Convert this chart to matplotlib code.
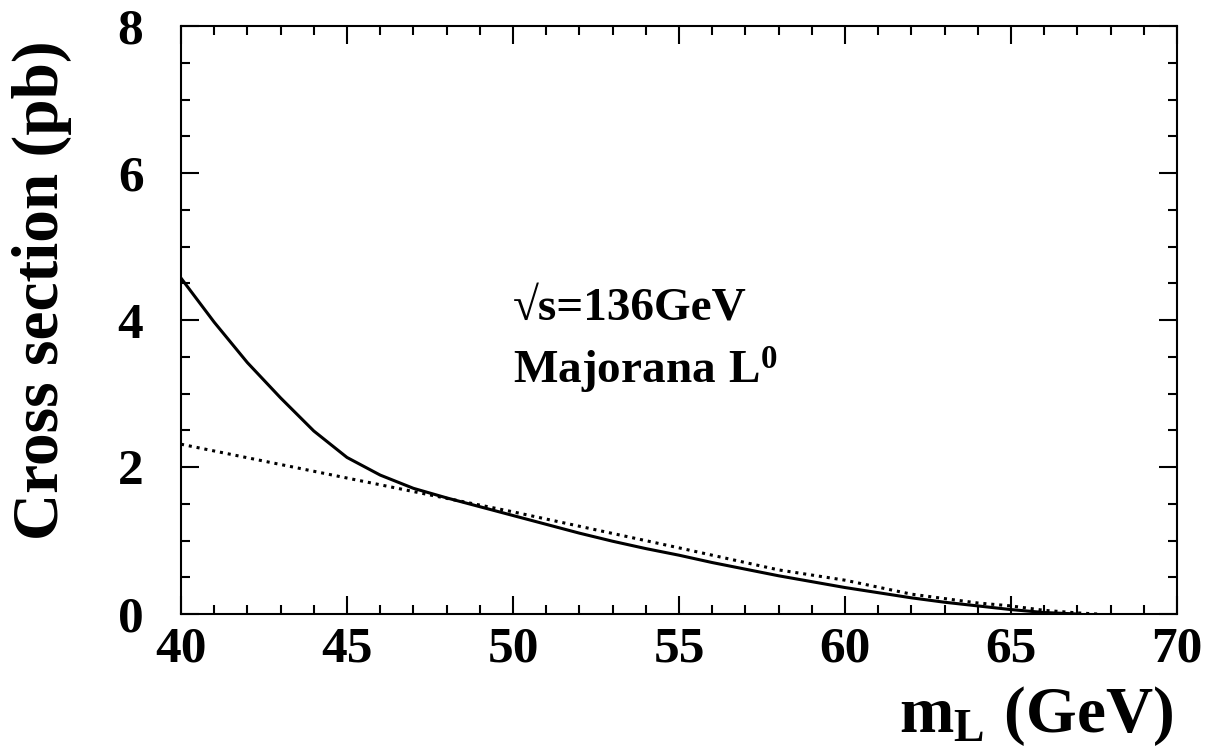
import matplotlib
matplotlib.use("Agg")
import matplotlib.pyplot as plt
from matplotlib.ticker import MultipleLocator

plt.rcParams['font.family'] = ['Liberation Serif', 'DejaVu Serif']
plt.rcParams['font.weight'] = 'bold'
plt.rcParams['mathtext.fontset'] = 'custom'
plt.rcParams['mathtext.rm'] = 'Liberation Serif:bold'
plt.rcParams['mathtext.it'] = 'Liberation Serif:bold'
plt.rcParams['mathtext.bf'] = 'Liberation Serif:bold'

# Data
mass = [40, 41, 42, 43, 44, 45, 46, 47, 48, 49, 50, 51, 52, 53, 54, 55,
        56, 57, 58, 59, 60, 61, 62, 63, 64, 65, 66, 67]
xsec_solid = [4.57, 3.97, 3.42, 2.94, 2.49, 2.13, 1.89, 1.71, 1.58, 1.46,
              1.34, 1.22, 1.10, 0.99, 0.89, 0.80, 0.70, 0.61, 0.52, 0.44,
              0.36, 0.29, 0.22, 0.16, 0.11, 0.06, 0.02, 0.0]
mass_dot = [40, 45, 50, 55, 58, 60, 62, 64, 65, 66, 67, 67.6]
xsec_dot = [2.31, 1.85, 1.39, 0.90, 0.60, 0.46, 0.27, 0.15, 0.11, 0.05, 0.015, 0.0]

xticks = [40, 45, 50, 55, 60, 65, 70]
yticks = [0, 2, 4, 6, 8]

fig = plt.figure(figsize=(12.08, 7.55), dpi=100)
ax = fig.add_axes([181/1208, 1-614/755, (1177-181)/1208, (614-26)/755])

ax.plot(mass, xsec_solid, color='black', lw=2.2, solid_joinstyle='miter')
ax.plot(mass_dot, xsec_dot, color='black', lw=2.2, linestyle=(0, (1, 1.6)))

ax.set_xlim(40, 70)
ax.set_ylim(0, 8)
ax.set_xticks(xticks)
ax.set_yticks(yticks)
ax.set_xticklabels([str(v) for v in xticks])
ax.set_yticklabels([str(v) for v in yticks])
ax.xaxis.set_minor_locator(MultipleLocator(1))
ax.yaxis.set_minor_locator(MultipleLocator(0.5))

for s in ax.spines.values():
    s.set_linewidth(1.5)

ax.tick_params(which='both', direction='in', top=True, right=True, width=1.5)
ax.tick_params(which='major', length=13)
ax.tick_params(which='minor', length=6.5)
ax.tick_params(axis='x', which='major', pad=9, labelsize=37)
ax.tick_params(axis='y', which='major', pad=27, labelsize=37)
for lab in ax.get_xticklabels() + ax.get_yticklabels():
    lab.set_fontweight('bold')

ax.text(50.0, 4.0, '\u221as=136GeV', fontsize=34, fontweight='bold',
        ha='left', va='baseline')
ax.text(50.0, 3.14, r'$\mathrm{Majorana\ L^0}$', fontsize=34,
        ha='left', va='baseline')

fig.text(1173/1208, 1-732/755, r'$\mathrm{m_L\ (GeV)}$', fontsize=47,
         ha='right', va='baseline')
fig.text(42/1208, 1-40/755, 'Cross section (pb)', fontsize=47,
         fontweight='bold', rotation=90, ha='center', va='top')

fig.savefig('out.png', dpi=100)
